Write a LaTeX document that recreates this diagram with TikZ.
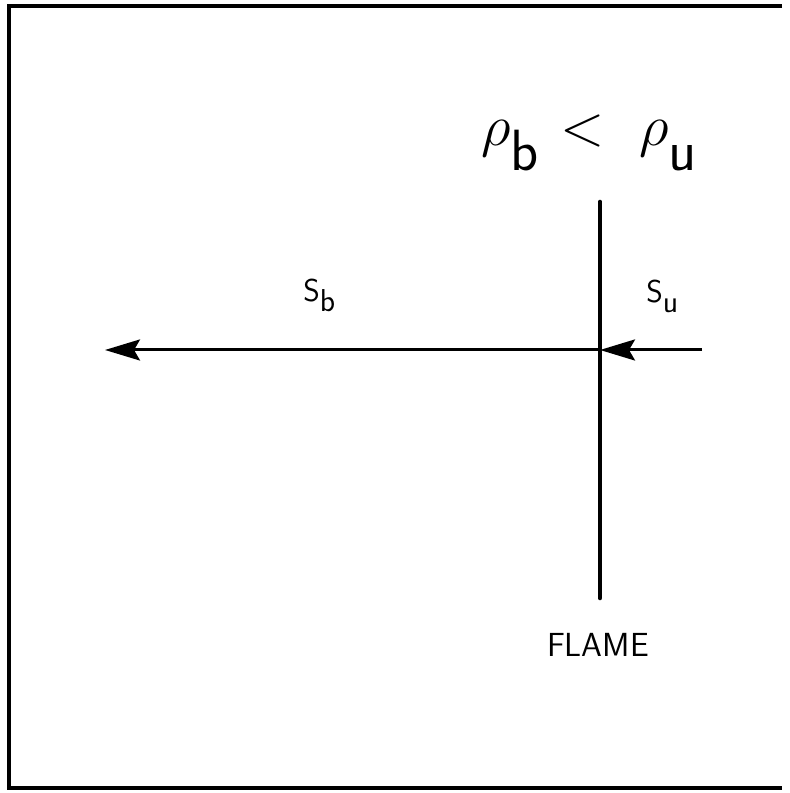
\documentclass[tikz,border=0pt]{standalone}
\usepackage{amsmath}
\usepackage{graphicx}
\usepackage{tikz}
\usetikzlibrary{
  arrows.meta,
  positioning
}
\definecolor{linecolor}{RGB}{0, 0, 0}
\definecolor{labelcolor}{RGB}{0, 0, 0}
% subscript set at full size, lowered
\newcommand{\lowsub}[2][0.42em]{\raisebox{-#1}{\sffamily #2}}
\tikzset{
speedlabel/.style={
  font=\sffamily\fontsize{18}{22}\selectfont,
  text=labelcolor,
  inner sep=0pt
},
densitylabel/.style={
  font=\fontsize{24.88}{30}\selectfont,
  text=labelcolor,
  inner sep=0pt,
  scale=1.33,
  transform shape
},
flamelabel/.style={
  font=\sffamily\fontsize{19}{23}\selectfont,
  text=labelcolor,
  inner sep=0pt
},
frameline/.style={
  draw=linecolor,
  line width=2.4pt
},
flameline/.style={
  draw=linecolor,
  line width=2.6pt,
  line cap=round
},
flowarrow/.style={
  -{Stealth[length=7mm,width=4.2mm,inset=1.2mm]},
  line width=1.7pt,
  draw=linecolor
}
}

\begin{document}
\begin{tikzpicture}
    \useasboundingbox (0,0) rectangle (15.78,15.86);

    % Open frame (no right side)
    \draw[frameline] (15.64,15.74) -- (0.18,15.74) -- (0.18,0.10) -- (15.64,0.10);

    % Flame front
    \coordinate (flametop) at (12.0,11.82);
    \coordinate (flamebot) at (12.0,3.90);
    \coordinate (cross) at (12.0,8.86);
    \draw[flameline] (flametop) -- (flamebot);

    % Flow arrows
    \coordinate (uin) at (14.04,8.86);
    \coordinate (bout) at (2.10,8.86);
    \draw[flowarrow] (uin) -- (cross);
    \draw[flowarrow] (cross) -- (bout);

    % Labels
    \node[densitylabel, anchor=base west] (rho) at (9.62,12.94)
      {$\rho$\lowsub{b}\hspace{9pt}$<$\hspace{15pt}$\rho$\lowsub{u}};
    \node[speedlabel, anchor=base west] (sb) at (6.06,9.82) {S\lowsub[0.3em]{b}};
    \node[speedlabel, anchor=base west] (su) at (12.92,9.80) {S\lowsub[0.3em]{u}};
    \node[flamelabel, anchor=base] (flame) at (11.96,2.72) {FLAME};

  \end{tikzpicture}
\end{document}
